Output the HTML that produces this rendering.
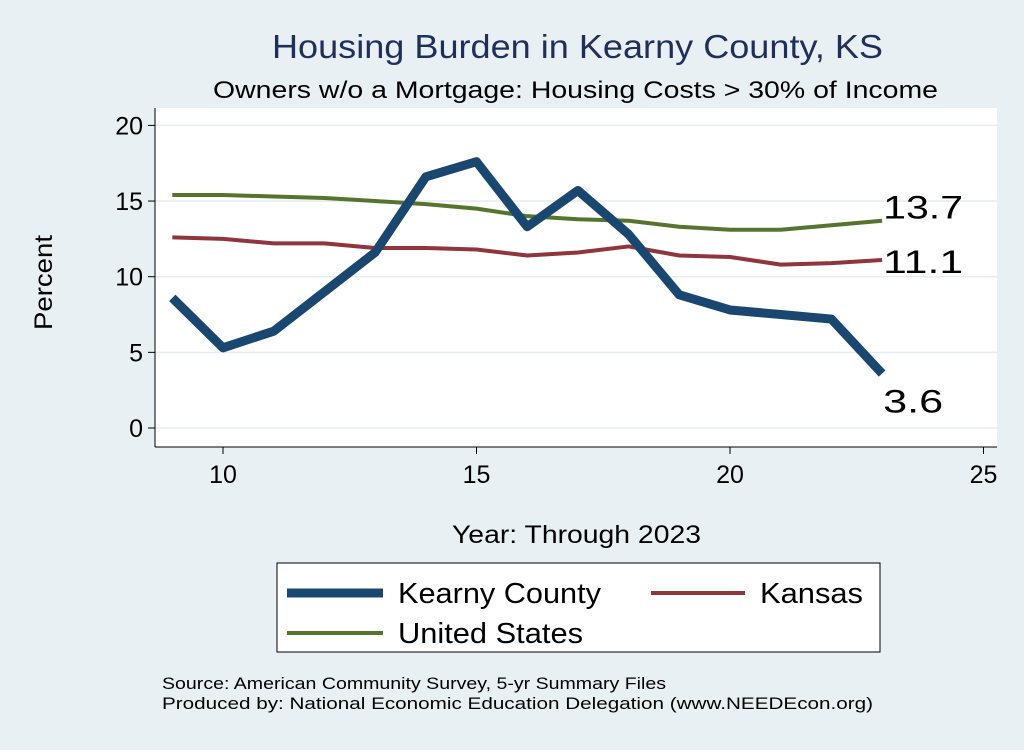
<!DOCTYPE html>
<html><head><meta charset="utf-8"><style>
body{margin:0;width:1024px;height:745px;background:#e9f0f4;font-family:"Liberation Sans",sans-serif;overflow:hidden}
</style></head><body>
<svg id="chart" width="1024" height="745" xmlns="http://www.w3.org/2000/svg" font-family="Liberation Sans, sans-serif">
<rect x="0" y="0" width="1024" height="745" fill="#e9f0f4"/>
<text x="272" y="58" font-size="33" fill="#1f2f5a" textLength="611" lengthAdjust="spacingAndGlyphs">Housing Burden in Kearny County, KS</text>
<text x="213" y="98" font-size="24" fill="#000" textLength="725" lengthAdjust="spacingAndGlyphs">Owners w/o a Mortgage: Housing Costs &gt; 30% of Income</text>
<rect x="155" y="108" width="842" height="339" fill="#fff"/>
<g id="grid"></g>
<g id="axes"></g>
<g id="series"></g>
<text transform="translate(52,330) rotate(-90)" font-size="25" textLength="95" lengthAdjust="spacingAndGlyphs">Percent</text>
<text x="452" y="543" font-size="25" textLength="249" lengthAdjust="spacingAndGlyphs">Year: Through 2023</text>
<g>
<rect x="277" y="563" width="603" height="89" fill="#fff" stroke="#000" stroke-width="1"/>
<g><line x1="287" y1="593" x2="383" y2="593" stroke="#1a476f" stroke-width="9"/><text x="398" y="603" font-size="29" textLength="203" lengthAdjust="spacingAndGlyphs">Kearny County</text></g>
<g><line x1="651" y1="593" x2="745" y2="593" stroke="#90353b" stroke-width="4"/><text x="760" y="603" font-size="29" textLength="103" lengthAdjust="spacingAndGlyphs">Kansas</text></g>
<g><line x1="287" y1="633" x2="383" y2="633" stroke="#55752f" stroke-width="4"/><text x="398" y="643" font-size="29" textLength="185" lengthAdjust="spacingAndGlyphs">United States</text></g>
</g>
<text x="162" y="689" font-size="17" textLength="504" lengthAdjust="spacingAndGlyphs">Source: American Community Survey, 5-yr Summary Files</text>
<text x="162" y="709" font-size="17" textLength="711" lengthAdjust="spacingAndGlyphs">Produced by: National Economic Education Delegation (www.NEEDEcon.org)</text>
</svg>
<script>
const years=[9,10,11,12,13,14,15,16,17,18,19,20,21,22,23];
const kearny=[8.6,5.3,6.4,9.0,11.6,16.6,17.6,13.3,15.7,12.8,8.8,7.8,7.5,7.2,3.6];
const kansas=[12.6,12.5,12.2,12.2,11.9,11.9,11.8,11.4,11.6,12.0,11.4,11.3,10.8,10.9,11.1];
const us=[15.4,15.4,15.3,15.2,15.0,14.8,14.5,14.0,13.8,13.7,13.3,13.1,13.1,13.4,13.7];
const xTicks=[10,15,20,25];
const yTicks=[0,5,10,15,20];
const NS='http://www.w3.org/2000/svg';
const xs=v=>223+(v-10)*50.7;
const ys=v=>428-v*15.13;
function mk(tag,attrs,parent){const e=document.createElementNS(NS,tag);for(const k in attrs)e.setAttribute(k,attrs[k]);parent.appendChild(e);return e;}
const grid=document.getElementById('grid'),axes=document.getElementById('axes'),ser=document.getElementById('series');
yTicks.forEach(t=>{
 const g=mk('line',{x1:155,x2:997,y1:ys(t),y2:ys(t),stroke:'#e6ecef','stroke-width':1.5},grid);
 
 
 const tk=mk('line',{x1:148,x2:155,y1:ys(t),y2:ys(t),stroke:'#000'},axes);
 
 
 const tx=mk('text',{x:143,y:ys(t)+9,'font-size':25,'text-anchor':'end'},axes);tx.textContent=t;
 
 
});
xTicks.forEach(t=>{
 const tk=mk('line',{x1:xs(t),x2:xs(t),y1:447,y2:454,stroke:'#000'},axes);
 
 
 const tx=mk('text',{x:xs(t),y:483,'font-size':25,'text-anchor':'middle'},axes);tx.textContent=t;
 
 
});
const ya=mk('line',{x1:155,x2:155,y1:108,y2:447,stroke:'#000'},axes);


const xa=mk('line',{x1:155,x2:997,y1:447,y2:447,stroke:'#000'},axes);


function line(vals,color,w,name,dy){
 const p=mk('polyline',{points:years.map((y,i)=>xs(y)+','+ys(vals[i])).join(' '),fill:'none',stroke:color,'stroke-width':w,'stroke-linejoin':'round'},ser);
 
 
 const n=vals.length-1;
 const s=vals[n].toFixed(1);
 const t=mk('text',{x:xs(years[n])+1,y:ys(vals[n])+dy,'font-size':32,textLength:s.length*20,lengthAdjust:'spacingAndGlyphs'},ser);t.textContent=s;
 
 
}
line(kansas,'#90353b',4,'kansas-line',13);
line(us,'#55752f',4,'us-line',-2);
line(kearny,'#1a476f',9,'kearny-line',39);
</script>
</body></html>
